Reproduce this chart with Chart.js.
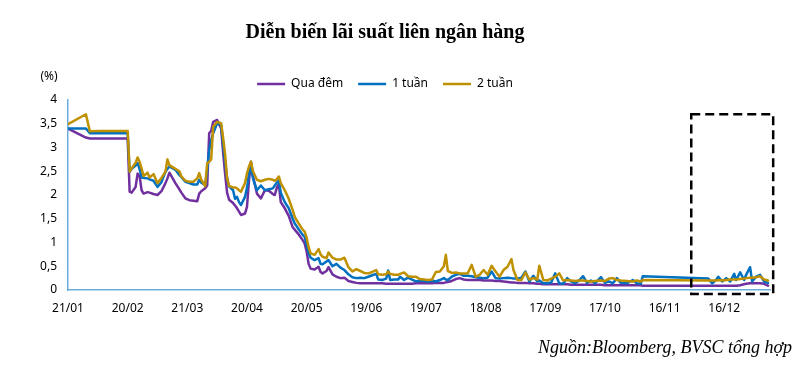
<!DOCTYPE html>
<html><head><meta charset="utf-8">
<script src="https://cdn.jsdelivr.net/npm/chart.js@4"></script>
<style>html,body{margin:0;padding:0;background:#fff}#wrap{width:806px;height:373px}</style>
</head><body><div id="wrap"><canvas id="c" width="806" height="373"></canvas></div>
<script>
// Calendar days since 21/01
const days = [0,9,11,16,23,30,31,32,34,35,36,37,38,40,41,43,45,47,49,50,51,54,56,57,59,61,63,65,66,67,69,70,71,72,73,75,77,78,79,80,81,83,84,85,86,87,89,90,91,92,93,95,97,
99,101,103,104,105,106,107,109,111,113,114,116,118,119,120,121,122,124,126,127,128,130,131,133,135,137,139,141,143,145,147,149,151,153,155,156,158,160,161,162,164,166,167,169,171,173,175,177,179,181,183,185,187,189,190,191,193,195,197,199,201,203,205,207,209,211,213,215,217,219,221,223,224,226,228,230,232,234,236,237,239,241,243,245,247,249,251,253,255,257,259,261,263,265,268,270,272,274,276,278,281,284,286,288,289,
322,324,326,327,329,331,333,335,336,338,340,341,343,344,346,348,350,352];

const overnight = [3.40,3.21,3.19,3.19,3.19,3.19,2.07,2.05,2.17,2.45,2.40,2.10,2.03,2.06,2.05,2.02,2.00,2.08,2.25,2.35,2.47,2.25,2.12,2.05,1.93,1.89,1.88,1.87,2.03,2.08,2.14,2.20,3.30,3.35,3.54,3.58,3.40,2.90,2.45,2.05,1.90,1.83,1.78,1.72,1.65,1.58,1.61,1.75,2.30,2.70,2.40,2.03,1.93,
2.10,2.09,2.02,2.00,2.15,2.23,1.85,1.72,1.56,1.32,1.27,1.17,1.05,0.98,0.81,0.55,0.45,0.43,0.49,0.38,0.35,0.40,0.48,0.33,0.28,0.25,0.26,0.19,0.17,0.15,0.14,0.14,0.14,0.14,0.14,0.14,0.14,0.13,0.13,0.13,0.13,0.13,0.13,0.13,0.13,0.13,0.14,0.14,0.14,0.14,0.14,0.15,0.15,0.15,0.16,0.17,0.19,0.23,0.25,0.22,0.21,0.21,0.21,0.21,0.20,0.20,0.20,0.19,0.19,0.18,0.17,0.16,0.16,0.15,0.15,0.15,0.14,0.14,0.13,0.13,0.12,0.12,0.12,0.12,0.12,0.12,0.12,0.11,0.11,0.11,0.11,0.11,0.11,0.11,0.11,0.10,0.10,0.10,0.10,0.10,0.10,0.10,0.10,0.10,0.09,
0.09,0.09,0.09,0.09,0.09,0.09,0.09,0.09,0.09,0.10,0.12,0.13,0.14,0.14,0.14,0.14,0.13,0.09];

const week1 = [3.40,3.40,3.30,3.30,3.30,3.30,2.49,2.55,2.62,2.67,2.55,2.37,2.36,2.35,2.33,2.30,2.17,2.27,2.49,2.55,2.60,2.53,2.42,2.38,2.28,2.25,2.22,2.22,2.32,2.26,2.21,2.53,2.95,3.15,3.30,3.51,3.47,3.09,2.70,2.35,2.18,2.10,1.92,1.96,1.85,1.79,1.96,2.15,2.45,2.63,2.35,2.10,2.20,
2.10,2.12,2.14,2.20,2.26,2.30,2.05,1.85,1.72,1.50,1.40,1.28,1.16,1.12,0.95,0.78,0.68,0.63,0.67,0.55,0.54,0.60,0.63,0.50,0.55,0.47,0.42,0.33,0.27,0.25,0.26,0.25,0.28,0.31,0.34,0.22,0.21,0.24,0.41,0.21,0.22,0.22,0.28,0.21,0.26,0.22,0.18,0.20,0.19,0.18,0.20,0.18,0.21,0.25,0.22,0.21,0.28,0.32,0.34,0.30,0.30,0.29,0.27,0.26,0.25,0.26,0.39,0.25,0.24,0.25,0.26,0.25,0.24,0.24,0.26,0.39,0.18,0.30,0.18,0.20,0.14,0.14,0.16,0.35,0.14,0.13,0.25,0.18,0.14,0.20,0.29,0.15,0.20,0.14,0.27,0.15,0.18,0.14,0.25,0.15,0.14,0.21,0.14,0.13,0.29,
0.24,0.14,0.22,0.28,0.18,0.25,0.18,0.34,0.21,0.37,0.21,0.32,0.48,0.18,0.28,0.32,0.18,0.15];

const week2 = [3.49,3.70,3.34,3.35,3.35,3.35,2.49,2.56,2.68,2.79,2.70,2.56,2.40,2.47,2.37,2.44,2.25,2.36,2.49,2.75,2.63,2.55,2.50,2.39,2.30,2.28,2.28,2.35,2.46,2.32,2.19,2.67,2.70,2.75,3.44,3.54,3.51,3.20,2.85,2.35,2.19,2.16,2.16,2.14,2.10,2.07,2.25,2.45,2.60,2.70,2.50,2.32,2.29,
2.32,2.34,2.32,2.30,2.33,2.39,2.25,2.10,1.92,1.68,1.54,1.40,1.27,1.23,1.10,0.90,0.77,0.74,0.86,0.75,0.70,0.67,0.79,0.68,0.64,0.64,0.68,0.48,0.39,0.44,0.40,0.36,0.35,0.38,0.42,0.33,0.32,0.33,0.39,0.34,0.32,0.32,0.34,0.37,0.29,0.28,0.28,0.23,0.22,0.21,0.22,0.38,0.39,0.50,0.74,0.40,0.36,0.37,0.35,0.35,0.35,0.53,0.28,0.32,0.42,0.32,0.51,0.39,0.28,0.42,0.49,0.65,0.42,0.21,0.21,0.37,0.22,0.25,0.22,0.51,0.21,0.20,0.24,0.28,0.35,0.20,0.21,0.20,0.19,0.20,0.20,0.19,0.18,0.19,0.20,0.19,0.24,0.25,0.21,0.20,0.19,0.18,0.20,0.18,0.21,
0.20,0.20,0.20,0.21,0.20,0.21,0.22,0.22,0.22,0.23,0.24,0.25,0.26,0.26,0.27,0.29,0.22,0.20];

const seriesNames = ['Qua đêm', '1 tuần', '2 tuần'];
const seriesColors = ['#7030A0', '#0070C0', '#BF9000'];
const tickDays = [0,30,60,90,120,150,180,210,240,270,300,330];
const tickLabels = ['21/01','20/02','21/03','20/04','20/05','19/06','19/07','18/08','17/09','17/10','16/11','16/12'];
const titleText = 'Diễn biến lãi suất liên ngân hàng';
const unitText = '(%)';
const sourceText = 'Nguồn:Bloomberg, BVSC tổng hợp';
const highlight = {x0: 313.4, x1: 354.6, y0: -0.084, y1: 3.70};

Chart.defaults.font.family = '"Noto Sans", sans-serif';
Chart.defaults.color = '#000';

const seriesValues = [overnight, week1, week2];
const datasets = seriesValues.map((vals, k) => ({
  label: seriesNames[k],
  data: days.map((d, i) => ({x: d, y: vals[i]})),
  borderColor: seriesColors[k],
  backgroundColor: seriesColors[k],
  borderWidth: 2.5,
  pointRadius: 0,
  tension: 0,
  fill: false,
  borderJoinStyle: 'round',
  borderCapStyle: 'round',
  order: 3 - k
}));

const extras = {
  id: 'extras',
  afterDatasetsDraw(chart) {
    const {ctx, chartArea} = chart;
    const x = chart.scales.x, y = chart.scales.y;
    ctx.save();
    ctx.strokeStyle = '#000';
    ctx.lineWidth = 2.5;
    ctx.setLineDash([9, 5]);
    const l = x.getPixelForValue(highlight.x0), r = x.getPixelForValue(highlight.x1);
    const t = y.getPixelForValue(highlight.y1), b = y.getPixelForValue(highlight.y0);
    ctx.strokeRect(l, t, r - l, b - t);
    ctx.setLineDash([]);
    ctx.fillStyle = '#000';
    ctx.font = '12px "Noto Sans"';
    ctx.textAlign = 'center';
    ctx.textBaseline = 'middle';
    ctx.fillText(unitText, chartArea.left - 19, chartArea.top - 23);
    ctx.font = 'italic 18px "Liberation Serif"';
    ctx.textAlign = 'right';
    ctx.fillText(sourceText, chart.width - 14, chart.height - 25);
    ctx.restore();
  }
};

new Chart(document.getElementById('c'), {
  type: 'line',
  data: {datasets},
  options: {
    responsive: false,
    animation: false,
    devicePixelRatio: 1,
    layout: {padding: {left: 0, right: 36, top: 0, bottom: 43}},
    plugins: {
      title: {
        display: true, text: titleText, color: '#000',
        font: {family: '"Liberation Serif", serif', size: 20, weight: 'bold'},
        padding: {top: 21, bottom: 18}
      },
      legend: {
        display: true,
        labels: {
          font: {size: 12}, color: '#000',
          usePointStyle: true, pointStyle: 'line', pointStyleWidth: 28,
          padding: 15,
          sort: (a, b) => a.datasetIndex - b.datasetIndex
        }
      },
      tooltip: {enabled: false}
    },
    scales: {
      x: {
        type: 'linear', min: 0, max: 353,
        grid: {display: false, drawTicks: false},
        border: {color: '#6AAEE0', width: 1.5},
        afterBuildTicks: s => { s.ticks = tickDays.map(v => ({value: v})); },
        afterFit: s => { s.height = 40; },
        ticks: {
          autoSkip: false, maxRotation: 0, padding: 11, font: {size: 12}, color: '#000',
          callback: v => tickLabels[tickDays.indexOf(v)]
        }
      },
      y: {
        min: 0, max: 4,
        grid: {display: false, drawTicks: false},
        border: {color: '#6AAEE0', width: 1.5},
        afterFit: s => { s.width = 68; },
        ticks: {
          stepSize: 0.5, padding: 11, font: {size: 12}, color: '#000',
          callback: v => String(v).replace('.', ',')
        }
      }
    }
  },
  plugins: [extras]
});
</script>
</body></html>
